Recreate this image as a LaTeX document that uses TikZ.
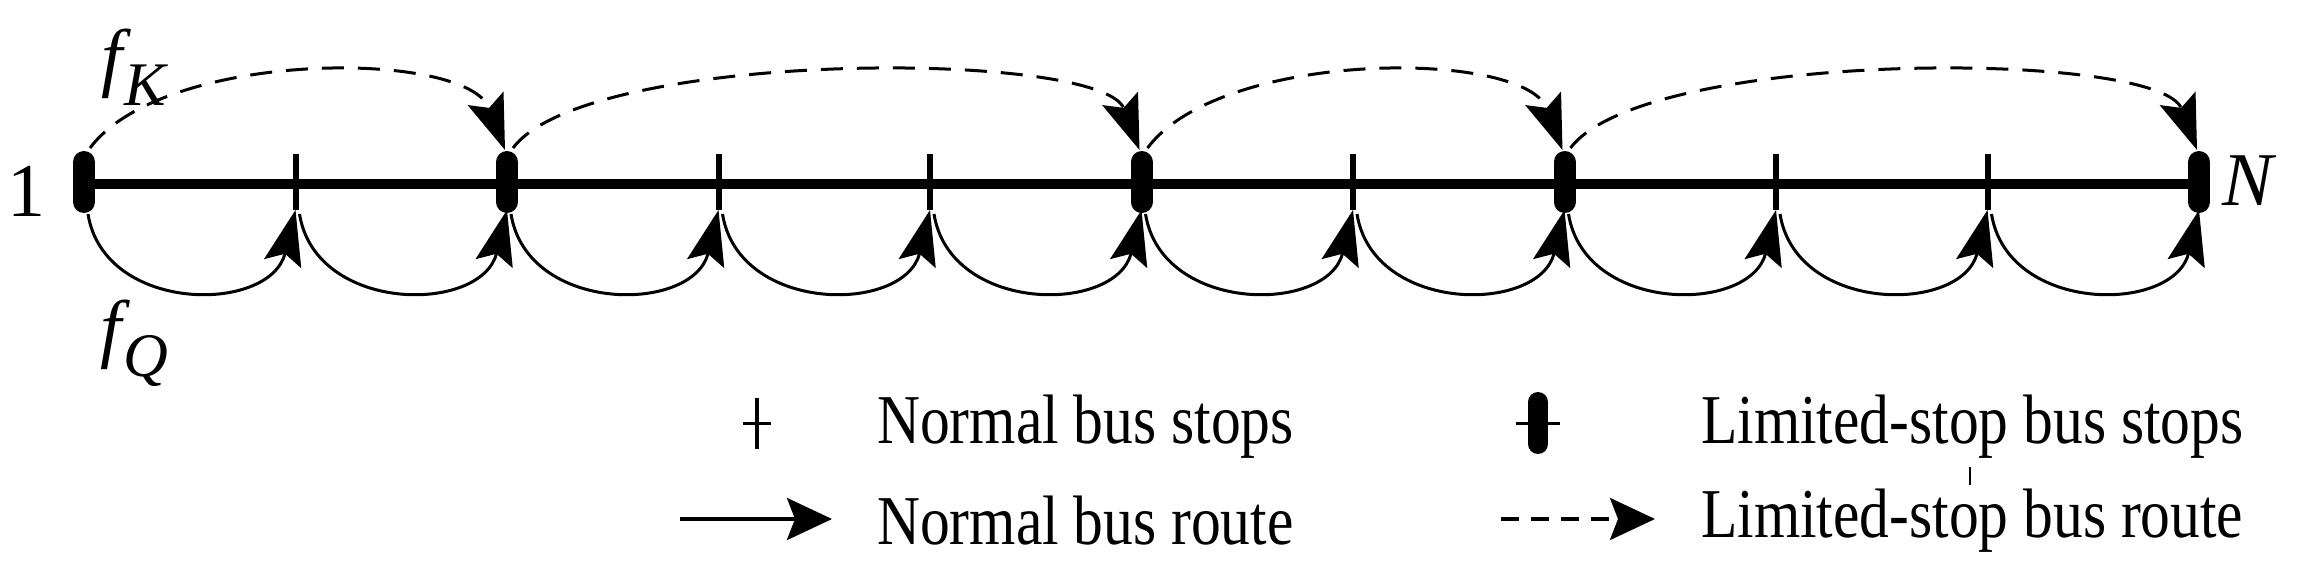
\documentclass[tikz,border=0pt]{standalone}
\usepackage{fontspec}
\setmainfont{Liberation Serif}
\usetikzlibrary{arrows.meta}
\newcommand{\narrowtxt}[1]{\scalebox{0.85}[1]{#1}}
\begin{document}
\begin{tikzpicture}[x=1pt,y=1pt,
  tick/.style={line width=6pt},
  lbar/.style={line width=22pt,line cap=round},
  solidarc/.style={line width=3pt,-{Stealth[length=55pt,width=38pt,inset=10pt]}},
  dasharc/.style={line width=3pt,dash pattern=on 22pt off 14pt,-{Stealth[length=55pt,width=38pt,inset=10pt]}},
  txt/.style={font=\fontsize{76}{76}\selectfont,inner sep=0pt},
  legtxt/.style={font=\fontsize{70}{70}\selectfont,inner sep=0pt,anchor=west}]
\useasboundingbox (0,0) rectangle (2304,579);
\foreach \i in {0,...,10} {
  \coordinate (s\i) at ({84+211.5*\i},395);
}
\draw[line width=10pt] (s0) -- (s10);
\foreach \i in {1,3,4,6,8,9} \draw[tick] ([yshift=30pt]s\i) -- ([yshift=-26pt]s\i);
\foreach \i in {0,2,5,7,10} \draw[lbar] ([yshift=22pt]s\i) -- ([yshift=-18pt]s\i);
% solid arcs
\foreach \i [evaluate=\i as \j using int(\i+1)] in {0,...,9} {
  \draw[solidarc] ([shift={(4pt,-30pt)}]s\i) .. controls ([shift={(20pt,-130pt)}]s\i) and ([shift={(-25pt,-130pt)}]s\j) .. ([shift={(0pt,-26pt)}]s\j);
}
% dashed arcs
\foreach \a/\b in {0/2,2/5,5/7,7/10} {
  \draw[dasharc] ([shift={(6pt,36pt)}]s\a) .. controls ([shift={(80pt,135pt)}]s\a) and ([shift={(-40pt,135pt)}]s\b) .. ([shift={(-2pt,34pt)}]s\b);
}
\node[txt] (one) at (26,388) {1};
\node[txt] (nn) at (2248,398) {\itshape N};
\node[txt] (fk) at (134,512) {\itshape f\kern2pt\raisebox{-0.3em}{\fontsize{62}{62}\selectfont K}};
\node[txt] (fq) at (134,236) {\itshape f\kern2pt\raisebox{-0.3em}{\fontsize{62}{62}\selectfont Q}};
% legend
\coordinate (l1) at (757,156);
\draw[line width=4pt] ([yshift=25pt]l1) -- ([yshift=-26pt]l1);
\draw[line width=3pt] ([xshift=-14pt]l1) -- ([xshift=14pt]l1);
\node[legtxt] (t1) at (877,152) {\narrowtxt{Normal bus stops}};
\coordinate (l2) at (1538,156);
\draw[lbar,line width=20pt] ([yshift=21pt]l2) -- ([yshift=-21pt]l2);
\draw[line width=3pt] ([xshift=-22pt]l2) -- ([xshift=22pt]l2);
\node[legtxt] (t2) at (1701,152) {\narrowtxt{Limited-stop bus stops}};
\coordinate (a1) at (680,60); \coordinate (a2) at (832,60);
\draw[line width=4pt,-{Stealth[length=45pt,width=42pt,inset=8pt]}] (a1) -- (a2);
\node[legtxt] (t3) at (877,58) {\narrowtxt{Normal bus route}};
\coordinate (b1) at (1501,60); \coordinate (b2) at (1655,60);
\draw[line width=4pt,dash pattern=on 18pt off 12pt,-{Stealth[length=45pt,width=42pt,inset=8pt]}] (b1) -- (b2);
\node[legtxt] (t4) at (1701,58) {\narrowtxt{Limited-stop bus route}};
\coordinate (m1) at (1970,112); \coordinate (m2) at (1970,94);
\draw[line width=2pt] (m1) -- (m2);
\end{tikzpicture}
\end{document}
